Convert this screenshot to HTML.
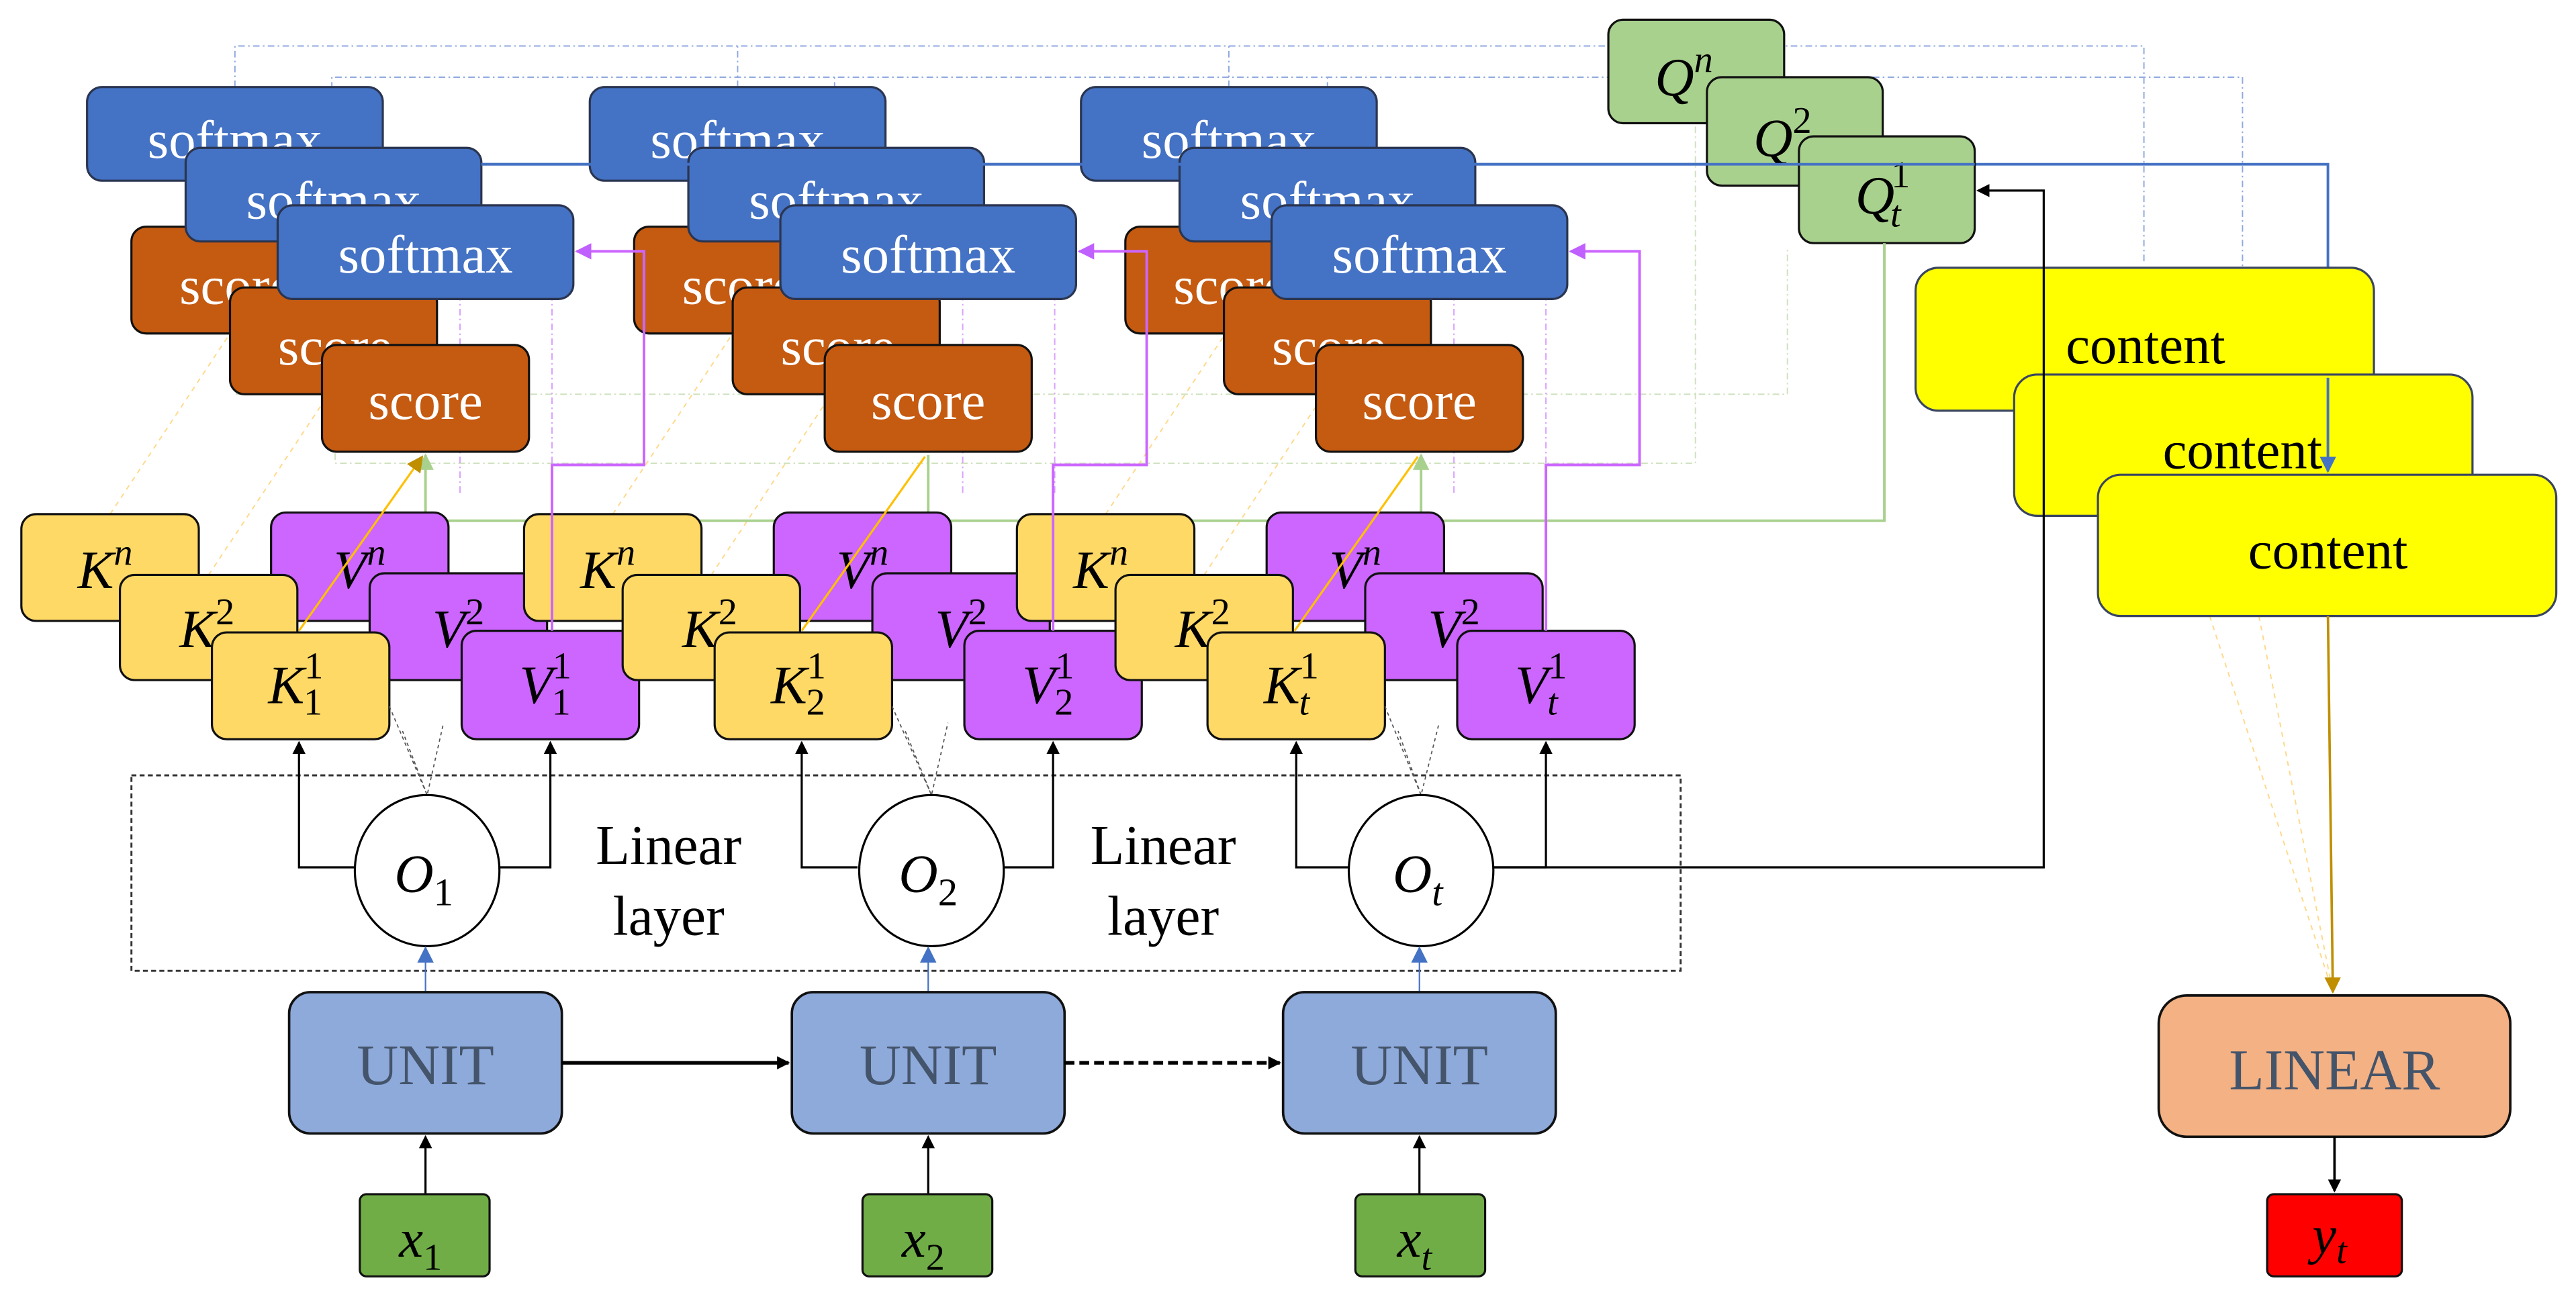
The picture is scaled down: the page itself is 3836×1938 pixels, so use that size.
<!DOCTYPE html>
<html><head><meta charset="utf-8"><style>
html,body{margin:0;padding:0;background:#fff;width:3836px;height:1938px;overflow:hidden}
svg{display:block}
svg text{font-family:"Liberation Serif","DejaVu Serif",serif !important}
.sm{fill:#4472c4;stroke:#2a3550;stroke-width:1.3}
.sc{fill:#c55a11;stroke:#111;stroke-width:1.3}
.k{fill:#ffd966;stroke:#111;stroke-width:1.3}
.v{fill:#cc66ff;stroke:#111;stroke-width:1.3}
.wt{fill:#fff;font-size:33px;text-anchor:middle}
.mt{fill:#000;font-size:33px;font-style:italic;text-anchor:middle}
</style></head><body>
<svg width="3836" height="1938" viewBox="0 0 1568 792" preserveAspectRatio="none" xmlns="http://www.w3.org/2000/svg" font-family="Liberation Serif, DejaVu Serif, serif">
<defs>
<marker id="ab" markerWidth="8" markerHeight="8" refX="7" refY="4" orient="auto" markerUnits="userSpaceOnUse"><path d="M0,0 L8,4 L0,8 z" fill="#000"/></marker>
<marker id="ap" markerWidth="10" markerHeight="10" refX="9" refY="5" orient="auto" markerUnits="userSpaceOnUse"><path d="M0,0 L10,5 L0,10 z" fill="#c060ff"/></marker>
<marker id="ag" markerWidth="10" markerHeight="10" refX="9" refY="5" orient="auto" markerUnits="userSpaceOnUse"><path d="M0,0 L10,5 L0,10 z" fill="#a9d18e"/></marker>
<marker id="abl" markerWidth="10" markerHeight="10" refX="9" refY="5" orient="auto" markerUnits="userSpaceOnUse"><path d="M0,0 L10,5 L0,10 z" fill="#4472c4"/></marker>
<marker id="ao" markerWidth="10" markerHeight="10" refX="9" refY="5" orient="auto" markerUnits="userSpaceOnUse"><path d="M0,0 L10,5 L0,10 z" fill="#bf8f00"/></marker>
</defs>

<g fill="none" stroke="#8fa8e0" stroke-width="0.8" stroke-dasharray="4,2,1,2">
<path d="M143,53 V28 H1305 V160"/>
<path d="M202,90 V47 H1365 V225"/>
<path d="M449,53 V28"/><path d="M508,90 V47"/><path d="M748,53 V28"/><path d="M808,90 V47"/>
</g>
<g fill="none" stroke="#cfe2bf" stroke-width="0.8" stroke-dasharray="4,2,1,2">
<path d="M144,203 V240 H1088 V150"/>
<path d="M204,240 V282 H1032 V75"/>
</g>
<g fill="none" stroke="#ffd98a" stroke-width="0.8" stroke-dasharray="3,3">
<path d="M67,313 L140,203"/><path d="M127,350 L200,240"/>
<path d="M373,313 L446,203"/><path d="M433,350 L506,240"/>
<path d="M673,313 L746,203"/><path d="M733,350 L806,240"/>
<path d="M1345,375 L1420,604"/><path d="M1375,375 L1420,604"/>
</g>

<g>
<g fill="none" stroke="#d9a0ff" stroke-width="0.8" stroke-dasharray="4,2,1,2">
<path d="M280,300 V100 H235" marker-end="url(#ap)"/>
<path d="M336,300 V137 H295" marker-end="url(#ap)"/>
</g>
<rect class="sc" x="80" y="138" width="128" height="65" rx="9"/><text class="wt" x="144" y="185">score</text>
<rect class="sm" x="53" y="53" width="180" height="57" rx="9"/><text class="wt" x="143" y="96">softmax</text>
<rect class="sm" x="113" y="90" width="180" height="57" rx="9"/><text class="wt" x="203" y="133">softmax</text>
<rect class="sc" x="140" y="175" width="126" height="65" rx="9"/><text class="wt" x="204" y="222">score</text>
<rect class="sm" x="169" y="125" width="180" height="57" rx="9"/><text class="wt" x="259" y="166">softmax</text>
<rect class="sc" x="196" y="210" width="126" height="65" rx="9"/><text class="wt" x="259" y="255">score</text>
</g>
<g transform="translate(306,0)">
<g fill="none" stroke="#d9a0ff" stroke-width="0.8" stroke-dasharray="4,2,1,2">
<path d="M280,300 V100 H235" marker-end="url(#ap)"/>
<path d="M336,300 V137 H295" marker-end="url(#ap)"/>
</g>
<rect class="sc" x="80" y="138" width="128" height="65" rx="9"/><text class="wt" x="144" y="185">score</text>
<rect class="sm" x="53" y="53" width="180" height="57" rx="9"/><text class="wt" x="143" y="96">softmax</text>
<rect class="sm" x="113" y="90" width="180" height="57" rx="9"/><text class="wt" x="203" y="133">softmax</text>
<rect class="sc" x="140" y="175" width="126" height="65" rx="9"/><text class="wt" x="204" y="222">score</text>
<rect class="sm" x="169" y="125" width="180" height="57" rx="9"/><text class="wt" x="259" y="166">softmax</text>
<rect class="sc" x="196" y="210" width="126" height="65" rx="9"/><text class="wt" x="259" y="255">score</text>
</g>
<g transform="translate(605,0)">
<g fill="none" stroke="#d9a0ff" stroke-width="0.8" stroke-dasharray="4,2,1,2">
<path d="M280,300 V100 H235" marker-end="url(#ap)"/>
<path d="M336,300 V137 H295" marker-end="url(#ap)"/>
</g>
<rect class="sc" x="80" y="138" width="128" height="65" rx="9"/><text class="wt" x="144" y="185">score</text>
<rect class="sm" x="53" y="53" width="180" height="57" rx="9"/><text class="wt" x="143" y="96">softmax</text>
<rect class="sm" x="113" y="90" width="180" height="57" rx="9"/><text class="wt" x="203" y="133">softmax</text>
<rect class="sc" x="140" y="175" width="126" height="65" rx="9"/><text class="wt" x="204" y="222">score</text>
<rect class="sm" x="169" y="125" width="180" height="57" rx="9"/><text class="wt" x="259" y="166">softmax</text>
<rect class="sc" x="196" y="210" width="126" height="65" rx="9"/><text class="wt" x="259" y="255">score</text>
</g>

<path d="M293,100 H1417 V287" fill="none" stroke="#4472c4" stroke-width="1.6" marker-end="url(#abl)"/>

<rect x="979" y="12" width="107" height="63" rx="9" fill="#a9d18e" stroke="#111" stroke-width="1.3"/>
<text class="mt" x="1025" y="58">Q<tspan font-size="23" dy="-14">n</tspan></text>
<rect x="1039" y="47" width="107" height="66" rx="9" fill="#a9d18e" stroke="#111" stroke-width="1.3"/>
<text class="mt" x="1085" y="95">Q<tspan font-size="23" font-style="normal" dy="-14">2</tspan></text>
<path d="M293,100 H1146" stroke="#4472c4" stroke-width="1.6"/>
<rect x="1095" y="83" width="107" height="65" rx="9" fill="#a9d18e" stroke="#111" stroke-width="1.3"/>
<text class="mt" x="1146" y="130">Q<tspan font-size="23" font-style="normal" dy="-16" dx="-2">1</tspan><tspan font-size="23" dy="24" dx="-12">t</tspan></text>
<path d="M1094,100 H1202" stroke="#4472c4" stroke-width="1.6"/>

<rect x="1166" y="163" width="279" height="87" rx="14" fill="#ffff00" stroke="#3a4560" stroke-width="1.3"/>
<text x="1306" y="221" font-size="33" text-anchor="middle">content</text>
<rect x="1226" y="228" width="279" height="86" rx="14" fill="#ffff00" stroke="#3a4560" stroke-width="1.3"/>
<text x="1365" y="285" font-size="33" text-anchor="middle">content</text>
<rect x="1277" y="289" width="279" height="86" rx="14" fill="#ffff00" stroke="#3a4560" stroke-width="1.3"/>
<text x="1417" y="346" font-size="33" text-anchor="middle">content</text>
<path d="M1417,230 V287" stroke="#4472c4" stroke-width="1.6" marker-end="url(#abl)"/>

<path d="M1147,148 V317 H259 V277" fill="none" stroke="#a9d18e" stroke-width="1.6" marker-end="url(#ag)"/>
<path d="M565,317 V277 M865,317 V277" fill="none" stroke="#a9d18e" stroke-width="1.6" marker-end="url(#ag)"/>

<g>
<rect class="k" x="13" y="313" width="108" height="65" rx="9"/><text class="mt" x="64" y="358">K<tspan font-size="23" dy="-14">n</tspan></text>
<rect class="v" x="165" y="312" width="108" height="66" rx="9"/><text class="mt" x="219" y="358">V<tspan font-size="23" dy="-14">n</tspan></text>
<rect class="k" x="73" y="350" width="108" height="64" rx="9"/><text class="mt" x="126" y="394">K<tspan font-size="23" font-style="normal" dy="-14">2</tspan></text>
<rect class="v" x="225" y="349" width="108" height="65" rx="9"/><text class="mt" x="279" y="394">V<tspan font-size="23" font-style="normal" dy="-14">2</tspan></text>
<rect class="k" x="129" y="385" width="108" height="65" rx="9"/>
<rect class="v" x="281" y="384" width="108" height="66" rx="9"/>
</g>
<text class="mt" x="180" y="428">K<tspan font-size="23" font-style="normal" dy="-15">1</tspan><tspan font-size="23" font-style="normal" dy="22" dx="-12">1</tspan></text>
<text class="mt" x="332" y="428">V<tspan font-size="23" font-style="normal" dy="-15">1</tspan><tspan font-size="23" font-style="normal" dy="22" dx="-12">1</tspan></text>
<g transform="translate(306,0)">
<rect class="k" x="13" y="313" width="108" height="65" rx="9"/><text class="mt" x="64" y="358">K<tspan font-size="23" dy="-14">n</tspan></text>
<rect class="v" x="165" y="312" width="108" height="66" rx="9"/><text class="mt" x="219" y="358">V<tspan font-size="23" dy="-14">n</tspan></text>
<rect class="k" x="73" y="350" width="108" height="64" rx="9"/><text class="mt" x="126" y="394">K<tspan font-size="23" font-style="normal" dy="-14">2</tspan></text>
<rect class="v" x="225" y="349" width="108" height="65" rx="9"/><text class="mt" x="279" y="394">V<tspan font-size="23" font-style="normal" dy="-14">2</tspan></text>
<rect class="k" x="129" y="385" width="108" height="65" rx="9"/>
<rect class="v" x="281" y="384" width="108" height="66" rx="9"/>
<text class="mt" x="180" y="428">K<tspan font-size="23" font-style="normal" dy="-15">1</tspan><tspan font-size="23" font-style="normal" dy="22" dx="-12">2</tspan></text>
<text class="mt" x="332" y="428">V<tspan font-size="23" font-style="normal" dy="-15">1</tspan><tspan font-size="23" font-style="normal" dy="22" dx="-12">2</tspan></text>
</g>
<g transform="translate(606,0)">
<rect class="k" x="13" y="313" width="108" height="65" rx="9"/><text class="mt" x="64" y="358">K<tspan font-size="23" dy="-14">n</tspan></text>
<rect class="v" x="165" y="312" width="108" height="66" rx="9"/><text class="mt" x="219" y="358">V<tspan font-size="23" dy="-14">n</tspan></text>
<rect class="k" x="73" y="350" width="108" height="64" rx="9"/><text class="mt" x="126" y="394">K<tspan font-size="23" font-style="normal" dy="-14">2</tspan></text>
<rect class="v" x="225" y="349" width="108" height="65" rx="9"/><text class="mt" x="279" y="394">V<tspan font-size="23" font-style="normal" dy="-14">2</tspan></text>
<rect class="k" x="129" y="385" width="108" height="65" rx="9"/>
<rect class="v" x="281" y="384" width="108" height="66" rx="9"/>
<text class="mt" x="180" y="428">K<tspan font-size="23" font-style="normal" dy="-15">1</tspan><tspan font-size="23" dy="22" dx="-12">t</tspan></text>
<text class="mt" x="332" y="428">V<tspan font-size="23" font-style="normal" dy="-15">1</tspan><tspan font-size="23" dy="22" dx="-12">t</tspan></text>
</g>

<g fill="none" stroke="#cc66ff" stroke-width="1.6">
<path d="M336,384 V283 H392 V153 H351" marker-end="url(#ap)"/>
<path d="M641,384 V283 H698 V153 H657" marker-end="url(#ap)"/>
<path d="M941,384 V283 H998 V153 H956" marker-end="url(#ap)"/>
</g>
<g fill="none" stroke="#ffc000" stroke-width="1.3">
<path d="M182,384 L257,278" marker-end="url(#ao)"/>
<path d="M488,384 L563,278"/>
<path d="M788,384 L863,278"/>
</g>

<rect x="80" y="472" width="943" height="119" fill="none" stroke="#333" stroke-width="1.2" stroke-dasharray="3,2"/>

<g fill="none" stroke="#000" stroke-width="1.3">
<path d="M216,528 H182 V452" marker-end="url(#ab)"/>
<path d="M304,528 H335 V452" marker-end="url(#ab)"/>
<path d="M522,528 H488 V452" marker-end="url(#ab)"/>
<path d="M610,528 H641 V452" marker-end="url(#ab)"/>
<path d="M822,528 H789 V452" marker-end="url(#ab)"/>
<path d="M908,528 H941 V452" marker-end="url(#ab)"/>
<path d="M908,528 H1244 V116 H1204" marker-end="url(#ab)"/>
</g>
<g fill="none" stroke="#555" stroke-width="0.7" stroke-dasharray="2,2">
<path d="M237,430 L260,484 L270,440 M260,484 L245,445"/>
<path d="M543,430 L567,484 L577,440 M567,484 L551,445"/>
<path d="M843,430 L865,484 L876,440 M865,484 L851,445"/>
</g>
<g fill="#fff" stroke="#000" stroke-width="1.3">
<ellipse cx="260" cy="530" rx="44" ry="46"/>
<ellipse cx="567" cy="530" rx="44" ry="46"/>
<ellipse cx="865" cy="530" rx="44" ry="46"/>
</g>
<text class="mt" x="258" y="543">O<tspan font-size="24" font-style="normal" dy="8">1</tspan></text>
<text class="mt" x="565" y="543">O<tspan font-size="24" font-style="normal" dy="8">2</tspan></text>
<text class="mt" x="863" y="543">O<tspan font-size="24" dy="8">t</tspan></text>
<g font-size="34" text-anchor="middle">
<text x="407" y="526">Linear</text><text x="407" y="569">layer</text>
<text x="708" y="526">Linear</text><text x="708" y="569">layer</text>
</g>

<g stroke="#4472c4" stroke-width="0.9" marker-end="url(#abl)">
<path d="M259,604 V577"/><path d="M565,604 V577"/><path d="M864,604 V577"/>
</g>
<g fill="#8eaadb" stroke="#111" stroke-width="1.5">
<rect x="176" y="604" width="166" height="86" rx="13"/>
<rect x="482" y="604" width="166" height="86" rx="13"/>
<rect x="781" y="604" width="166" height="86" rx="13"/>
</g>
<g font-size="35" fill="#44546a" text-anchor="middle">
<text x="259" y="660">UNIT</text><text x="565" y="660">UNIT</text><text x="864" y="660">UNIT</text>
</g>
<path d="M342,647 H480" stroke="#000" stroke-width="2.2" marker-end="url(#ab)"/>
<path d="M648,647 H779" stroke="#000" stroke-width="2.2" stroke-dasharray="6,3" marker-end="url(#ab)"/>

<g stroke="#000" stroke-width="1.3" marker-end="url(#ab)">
<path d="M259,727 V692"/><path d="M565,727 V692"/><path d="M864,727 V692"/>
</g>
<g fill="#70ad47" stroke="#111" stroke-width="1.3">
<rect x="219" y="727" width="79" height="50" rx="4"/>
<rect x="525" y="727" width="79" height="50" rx="4"/>
<rect x="825" y="727" width="79" height="50" rx="4"/>
</g>
<text class="mt" x="256" y="765">x<tspan font-size="23" font-style="normal" dy="8">1</tspan></text>
<text class="mt" x="562" y="765">x<tspan font-size="23" font-style="normal" dy="8">2</tspan></text>
<text class="mt" x="861" y="765">x<tspan font-size="23" dy="8">t</tspan></text>

<path d="M1417,375 L1420,604" stroke="#bf8f00" stroke-width="1.5" marker-end="url(#ao)"/>
<rect x="1314" y="606" width="214" height="86" rx="17" fill="#f4b183" stroke="#111" stroke-width="1.5"/>
<text x="1421" y="663" font-size="35" fill="#44546a" text-anchor="middle">LINEAR</text>
<path d="M1421,692 V725" stroke="#000" stroke-width="1.5" marker-end="url(#ab)"/>
<rect x="1380" y="727" width="82" height="50" rx="4" fill="#ff0000" stroke="#111" stroke-width="1.3"/>
<text class="mt" x="1418" y="763">y<tspan font-size="23" dy="6">t</tspan></text>
</svg>
</body></html>
